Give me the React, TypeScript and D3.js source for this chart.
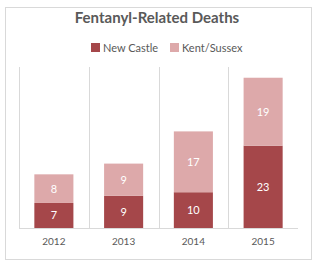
import React from 'react'
import * as d3 from 'd3'

const years = ['2012', '2013', '2014', '2015']
const newCastle = [7, 9, 10, 23]
const kentSussex = [8, 9, 17, 19]
const seriesNames = ['New Castle', 'Kent/Sussex']
const seriesColors = ['#A5474A', '#DDA9AA']

const W = 319
const H = 267
const FONT = 'Lato, "Open Sans", sans-serif'

export default function App() {
  const x = d3.scaleBand().domain(years).range([19, 298]).paddingInner(0).paddingOuter(0)
  const y = d3.scaleLinear().domain([0, 45]).range([228, 67])
  const barW = x.bandwidth() * 0.56

  const rows = years.map((yr, i) => ({ year: yr, nc: newCastle[i], ks: kentSussex[i] }))
  const stacked = d3.stack<any>().keys(['nc', 'ks'])(rows)

  return (
    <svg width={W} height={H} style={{ position: 'absolute', left: 0, top: 0 }}>
      <rect x={0} y={0} width={W} height={H} fill="#fff" />
      <rect x={5.5} y={7.5} width={306} height={252} fill="#fff" stroke="#D9D9D9" />
      <text x={157} y={23} textAnchor="middle" fontFamily={FONT} fontWeight="bold" fontSize={15} fill="#595959">
        Fentanyl-Related Deaths
      </text>
      {/* legend */}
      <g fontFamily={FONT} fontSize={11} fill="#595959">
        <rect x={91} y={43} width={9} height={9} fill={seriesColors[0]} />
        <text x={103} y={51.5}>{seriesNames[0]}</text>
        <rect x={170} y={43} width={9} height={9} fill={seriesColors[1]} />
        <text x={182} y={51.5}>{seriesNames[1]}</text>
      </g>
      {/* category gridlines */}
      {years.map((yr) => (
        <line key={yr} x1={Math.round(x(yr)!) + 0.5} x2={Math.round(x(yr)!) + 0.5} y1={y(45)} y2={y(0)} stroke="#D9D9D9" />
      ))}
      {stacked.map((s, si) => (
        <g key={si}>
          {s.map((d, i) => {
            const cx = x(years[i])! + x.bandwidth() / 2
            const top = y(d[1])
            const bot = y(d[0])
            return (
              <g key={i}>
                <rect x={cx - barW / 2} y={top} width={barW} height={bot - top} fill={seriesColors[si]} />
                <text x={cx} y={(top + bot) / 2 + 4} textAnchor="middle" fontFamily={FONT} fontSize={11} fill="#fff">
                  {d[1] - d[0]}
                </text>
              </g>
            )
          })}
        </g>
      ))}
      <line x1={19} x2={298} y1={228.5} y2={228.5} stroke="#D9D9D9" />
      {years.map((yr) => (
        <text key={yr} x={x(yr)! + x.bandwidth() / 2} y={245} textAnchor="middle" fontFamily={FONT} fontSize={10} fill="#595959">
          {yr}
        </text>
      ))}
    </svg>
  )
}
